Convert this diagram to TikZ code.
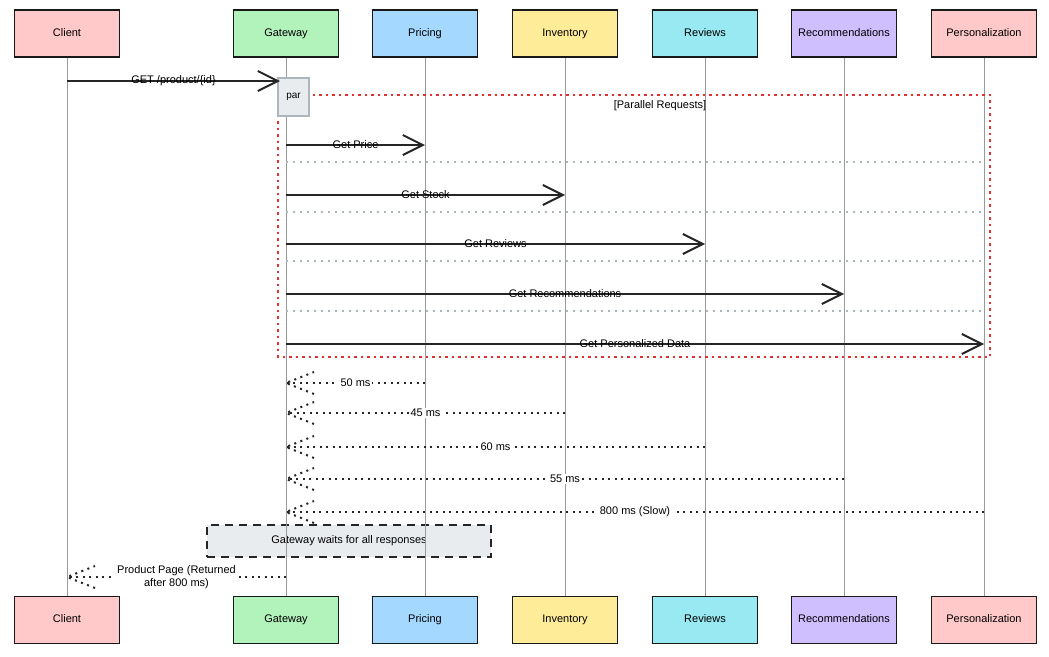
\documentclass[tikz,border=0pt]{standalone}
\usepackage{fontspec}
\setmainfont{Liberation Sans}
\usetikzlibrary{arrows.meta}
\definecolor{cClient}{HTML}{FFC9C9}
\definecolor{cGw}{HTML}{B2F2BB}
\definecolor{cPrice}{HTML}{A5D8FF}
\definecolor{cInv}{HTML}{FFEC99}
\definecolor{cRev}{HTML}{99E9F2}
\definecolor{cRec}{HTML}{D0BFFF}
\definecolor{cPers}{HTML}{FFC9C9}
\definecolor{parred}{HTML}{E03131}
\definecolor{sepgray}{HTML}{ADB5BD}
\definecolor{notegray}{HTML}{E9ECEF}
\definecolor{lifegray}{HTML}{9A9A9A}
\newcommand\retmsg[4]{%
  \coordinate (#4s) at (#1 |- 0,#2);
  \coordinate (#4e) at (gwT |- 0,#2);
  \draw[ret] (#4s) -- (#4e);
  \draw[ret] ([xshift=28pt,yshift=-11pt]#4e) -- (#4e) -- ([xshift=28pt,yshift=11pt]#4e);
  \path (#4s) -- (#4e) node[midway, lbl, fill=white, inner sep=1.5pt] {#3};
}
\newcommand\reqmsg[4]{%
  \coordinate (#4s) at (gwT |- 0,#2);
  \coordinate (#4e) at (#1 |- 0,#2);
  \draw[req] (#4s) -- (#4e) node[midway, lbl] {#3};
}
\begin{document}
\begin{tikzpicture}[x=1pt,y=-1pt,
  part/.style={draw=black!90, line width=1.8pt, minimum width=105pt, minimum height=47pt, inner sep=0pt, text height=8pt, text depth=2.5pt, font=\fontsize{11}{13}\selectfont},
  life/.style={draw=lifegray, line width=1pt},
  lbl/.style={font=\fontsize{11}{13}\selectfont, inner sep=1pt},
  req/.style={draw=black!85, line width=2.6pt, -{Straight Barb[length=20pt,width=20pt,line width=2pt]}},
  ret/.style={draw=black!85, line width=2pt, dash pattern=on 2pt off 4.5pt},
  sep/.style={draw=sepgray, line width=1.3pt, dash pattern=on 2pt off 5pt},
  frame/.style={draw=parred, line width=2pt, dash pattern=on 2.5pt off 4pt},
  parbox/.style={draw=sepgray, line width=1.4pt, fill=notegray, minimum width=31pt, minimum height=38pt, inner sep=0pt, font=\fontsize{10}{12}\selectfont},
  notebox/.style={draw=black!85, line width=2pt, dash pattern=on 8pt off 6pt, fill=notegray, minimum width=284pt, minimum height=32pt, inner sep=0pt, font=\fontsize{11}{13}\selectfont}
]
\useasboundingbox (0,0) rectangle (1049,656);
% note (behind lifelines)
\node[notebox] (note) at (349,541) {Gateway waits for all responses};
% participants
\foreach \n/\x/\c/\t in {cl/67/cClient/Client, gw/286/cGw/Gateway, pr/425/cPrice/Pricing, in/565/cInv/Inventory, rv/705/cRev/Reviews, rc/844/cRec/Recommendations, ps/984/cPers/Personalization}{
  \node[part, fill=\c] (\n T) at (\x,33.5) {\t};
  \node[part, fill=\c] (\n B) at (\x,620) {\t};
  \draw[life] (\n T.south) -- (\n B.north);
}
% par frame
\draw[frame] (278,95) rectangle (990,357);
\node[parbox] (par) at (293.5,97) {par};
\node[lbl] (partitle) at (660,106) {[Parallel Requests]};
% initial request
\coordinate (m0s) at (clT |- 0,81);
\coordinate (m0e) at ([xshift=-6pt]gwT |- 0,81);
\draw[req] (m0s) -- (m0e) node[midway, lbl] {GET /product/\{id\}};
% separators
\foreach \yy in {162,212,261,311}{
  \draw[sep] (gwT |- 0,\yy) -- (psT |- 0,\yy);
}
% requests
\reqmsg{prT}{145}{Get Price}{q1}
\reqmsg{inT}{195}{Get Stock}{q2}
\reqmsg{rvT}{244}{Get Reviews}{q3}
\reqmsg{rcT}{294}{Get Recommendations}{q4}
\reqmsg{psT}{344}{Get Personalized Data}{q5}
% responses
\retmsg{prT}{383}{50 ms}{r1}
\retmsg{inT}{413}{45 ms}{r2}
\retmsg{rvT}{447}{60 ms}{r3}
\retmsg{rcT}{479}{55 ms}{r4}
\retmsg{psT}{512}{800 ms (Slow)}{r5}
% final response
\coordinate (fs) at (gwT |- 0,577);
\coordinate (fe) at (clT |- 0,577);
\draw[ret] (fs) -- (fe);
\draw[ret] ([xshift=28pt,yshift=-11pt]fe) -- (fe) -- ([xshift=28pt,yshift=11pt]fe);
\path (fs) -- (fe) node[midway, lbl, fill=white, align=center, inner sep=2pt] {Product Page (Returned\\after 800 ms)};
\end{tikzpicture}
\end{document}
